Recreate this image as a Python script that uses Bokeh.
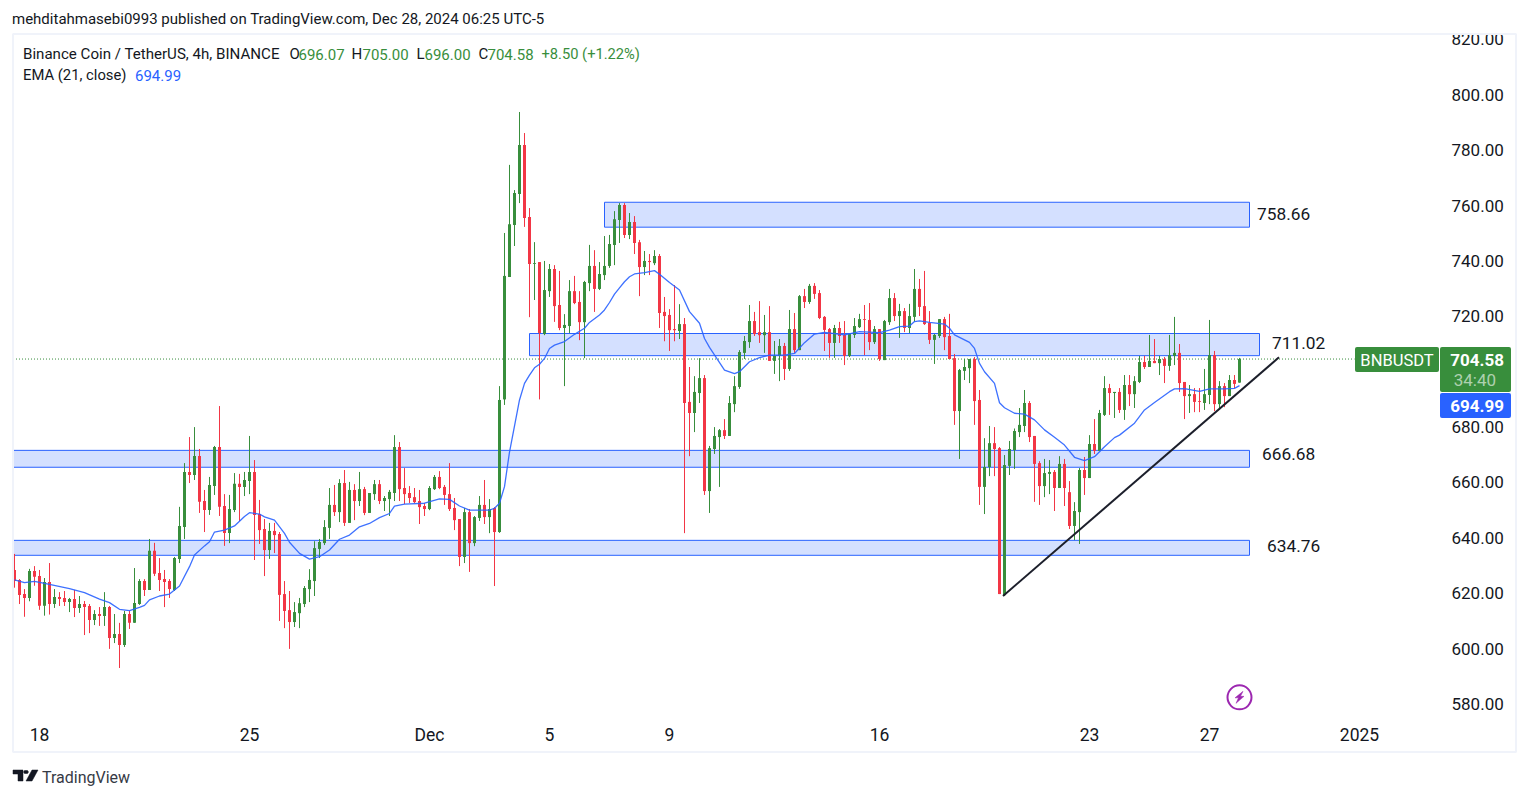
from bokeh.plotting import figure
from bokeh.embed import file_html
from bokeh.resources import INLINE
from bokeh.models import (Label, BoxAnnotation, PolyAnnotation, FixedTicker,
                          PrintfTickFormatter, ColumnDataSource, Range1d)
from bokeh.core.properties import value

# ---------- candle data (4h bars) ----------
dir_a = "RRRGRRGRGRRGRGRRGRGRGRGRGGRGRRRRGGGRGRRGGRRGGRGGRR"
dir_b = "RGRRRRGGGGGGGGRGRGRGRGGRGGGRRRRRRGGRRRRRGRGGRGRGGG"
dir_c = "GGRRGRGGRRGGRRGGRGGGGGRGRRGRGRRRRGRRGGRGGGRGGGGGRR"
dir_d = "GRGGRGRGRGRRRRGRRGGGRRGRGGRGRGGRRRGGRRRGGGRRGGRRGG"
dir_e = "GGGRRRGGRGRRGGRGRGGRGRGRGGRGRGRGGRRGRRGGRGRGRG"
directions = dir_a + dir_b + dir_c + dir_d + dir_e

highs = [634.2,625.1,621.5,628.8,629.8,628.4,625.5,630.9,621.5,620.4,620.8,618.3,621.2,619,617.2,616.1,613.9,615,620.4,615.4,612.5,609.3,613.6,613.6,629.1,625.1,625.1,639.6,638.2,632.7,628.4,625.1,633.1,651.2,667,676.4,680,672.1,657.3,662,673.2,687.6,655.8,655.5,663.4,663.1,663.8,676.8,668.1,653.7,
646.8,645.4,645.4,642.1,624.4,620.8,616.8,618.3,622.6,628.7,638.8,639.6,646.4,658,659.1,661.2,664.5,660.2,659.4,663.8,658.4,656.2,660.9,660.9,655.1,657.3,677.1,674.6,665.2,658.7,658,657.3,652.6,658.7,662.7,664.1,659.1,667,654.4,646.8,650.8,650.4,647.9,655.1,660.9,654,651.1,694.8,750.1,774.7,
765.6,793.8,786.2,759.1,746.8,739.6,740,738.9,738.5,736.4,720.8,733.1,734.6,729.1,732.8,745.8,743.9,739.6,749,749.4,758,760.9,760.9,757.3,756.2,747.6,743.6,742.5,743.9,742.5,727,722.6,731.3,724.4,719.4,701.7,698.4,704.9,698.8,673.2,680,679.3,682.9,691.2,698.4,707.8,712.9,724.1,721.6,725.5,
720.5,723.7,711.1,711.8,710.4,722.3,721.2,727.7,729.9,731.7,732,729.5,720.1,715.8,716.9,718,718.3,713.6,719.4,720.9,724.1,724.8,716.5,715.4,718.7,729.9,728.4,724.5,723,724.5,737.1,733.5,736.4,721.9,713.6,719,719.8,720.9,706.4,701,704.6,704.6,705.3,693.4,676,680.4,680,672.8,669.9,675,
679.5,686.9,693.4,689.4,676.8,667.7,668.5,668.1,664.5,669.5,668.5,660.5,652.9,665.2,669.2,677.1,682.9,686.2,698.4,695.6,692.7,694.1,698.8,698.8,698.4,705.7,705.7,713.3,711.8,705.7,705.3,713.3,719.8,710,696.3,695.2,694.1,694.1,701,718.7,707.5,696.6,695.9,698.8,698.8,705]

body_tops = [628.4,624.8,619.7,628,628,626.2,624.1,624.1,618.6,618.6,618.3,617.9,617.9,616.1,616.1,615.4,612.5,612.5,615,615,605.3,605.3,612.5,612.5,616.5,624.4,624.4,635.3,635.3,627.3,625.1,624.4,632.7,644.3,663.8,663.8,669.6,669.6,653.3,659.1,672.8,672.8,651.5,650.4,659.5,659.5,660.9,663.8,663.8,648.6,
643.2,642.5,642.5,641.4,619.7,613.9,613.2,616.4,621.9,624.8,636.3,638.5,643.9,651.9,651.9,659.8,659.8,657.3,657.3,657.6,657.6,656.2,659.4,659.4,654.4,656.6,672.8,672.8,658,656.2,654.7,653.3,651.5,658,662,662,658.4,655.8,650.8,646.8,649.3,649.3,647.5,651.9,651.9,650.4,650.8,689.8,734.6,753.3,
764.5,781.9,781.9,755.9,739.2,739.6,729.5,737.1,737.1,724.1,716.9,729.1,729.1,725.2,732.4,738.2,738.2,735.3,738.2,746.1,755.1,760.2,760.2,754.1,754.1,746.8,740,740,741.8,741.8,721.6,720.5,715.4,717.2,717.2,689.1,692.7,697.7,697.7,672.4,676.8,678.9,678.9,688.7,694.8,707.1,711.1,718.3,718.3,714.3,
714.3,714.3,705.7,709.3,709.3,715.4,715.4,727.3,727.3,731,731,728.4,719.8,715.4,715.8,715.8,713.3,713.6,716.5,719,719,718.7,715.4,715.4,718.3,726.6,726.6,721.9,721.9,720.1,729.9,729.9,723.7,717.6,713.3,719,719,712.9,704.9,700.6,701.7,704.6,704.6,689.8,665.6,674.2,674.2,672.4,666.3,672.1,
678.6,680.8,688.7,688.7,676.8,667,663.4,663.8,663.8,666.7,666.7,656.5,649.7,664.5,664.5,673.9,673.9,685.1,694.1,694.1,692.7,692.7,695.2,695.2,696.6,703.5,703.5,703.9,703.9,704.6,704.6,706,706.8,706.8,696.3,691.9,691.9,689.4,691.9,706,706,694.8,694.8,697,697,704.58]

body_bottoms = [624.4,619.4,618.3,618.3,626,615.5,615.5,616.1,616.1,617.9,616.8,616.8,614.7,614.7,615,610.3,610.3,611.8,611.8,603.8,603.8,601.3,601.3,609.3,609.3,616.1,621.2,621.2,627,624.8,624.1,621.5,621.2,632.4,643.9,662.7,662.7,653,650.1,650.1,658.7,651.2,641.8,641.8,650.1,658.4,658.4,660.5,648.3,642.8,
635.6,635.6,641,619.4,613.6,609.6,609.6,612.8,616.1,621.5,624.4,636,638.1,643.6,649.3,649.3,645.4,645.4,653.3,653.3,649,649,655.8,653.3,653.3,654,656.2,657.6,655.8,654.4,652.9,651.1,650.4,650.4,657.6,658,655.5,650.4,646.4,633.1,633.1,638.1,638.1,647.2,647.5,647.5,642.1,642.1,690,734.2,
753,764.2,755.5,738.9,738.9,714,713.6,729.1,723.7,715.8,715.8,716.5,724.8,717.9,717.9,732,729.9,729.9,734.9,738.2,745.8,754.8,749.4,749.4,746.5,737.8,737.8,739.6,739.2,721.2,720.1,715,715,714.7,688.7,685.1,685.1,692.3,656.9,656.9,672.1,676.4,676.8,676.8,688.3,694.5,706.8,710.7,713.6,713.2,
713.2,703.9,703.9,705.7,701,701,707.8,707.8,725.2,725.2,728.1,719.4,715.1,710.4,710.4,712.9,705.7,705.7,713.3,716.1,718.7,710.7,710.7,704.6,704.2,717.9,720.1,720.1,715.8,715.8,719.8,723.4,717.2,711.5,711.5,712.9,712.5,704.6,685.8,685.8,700.3,701.3,689.4,658.4,658.4,665.6,672.1,619.7,619.3,666,
671.7,678.2,680.4,676.4,666.7,658.7,658.7,663.1,658,658,658,644.3,644.3,649.3,661.6,661.6,671.4,671.4,684.4,692.3,692.3,686.2,686.2,691.9,691.9,696.3,701.7,701.7,703.1,703.1,702.1,702.1,705.7,695.9,691.2,691.2,689.1,689.1,688.7,691.6,688.3,688.3,691.2,691.2,695.6,696.07]

lows = [622,616.1,611.5,617.1,622.7,614,611.9,612.3,614.7,615.4,615.4,613.2,611.4,612.9,604.9,605.6,608.5,608.2,608.2,599.9,602,593,600.6,607.1,609.3,615.8,619,621.2,626.2,620.8,615,618.3,620.8,630.9,639.6,659.8,660.9,649,642.1,648.3,655.5,647.9,637.1,638.1,649.3,646.1,655.1,655.8,632,637.8,
626.2,632.4,634.5,610,607.4,599.9,607.8,607.4,615,616.8,619,632.7,637.4,639.6,647.9,645.7,644.3,645.4,646.4,651.5,648.2,649,653.7,652.2,649.7,647.9,653.3,653.3,652.2,652.6,652.6,645,647.9,650,657.3,657.6,651.9,649.7,642.8,629.8,630.9,627.7,637,646.1,645,641.7,622.6,641.8,688,734.2,
745.4,760.9,752.3,719.7,725.9,690,713.2,727,718,715,694.8,714,724.4,711.4,704.9,729.1,721.6,729.5,733.1,737.5,738.5,746.5,748.3,747.9,742.5,727.3,734.9,734.9,738.5,715.8,711,707.5,711,711.8,641.7,669.5,678.2,688.7,655.5,649,670.3,658.4,675.7,676.8,685.4,693.8,704.6,708.6,712.9,710.4,
706.8,703.9,699.2,696.6,697,700.3,706.8,707.8,723,724.5,726.3,719,707.5,705,705,710.4,702.4,705.3,712.2,715.8,706,707.8,710,703.9,704.2,716.9,718.3,712.2,714.3,714,718,720.1,716.9,710,702.8,712.2,707.8,704.6,680.8,668.5,697,695.9,680.8,651.9,648.6,662.3,662.3,619.7,619,662.7,
664.9,676.4,678.2,674.6,653,651.9,654.7,655.8,649.7,658,651.5,643.2,639.2,637.8,655.5,661.6,670.3,671.4,684,684.4,683.3,685.1,682.6,687.6,686.9,695.9,701,701.7,703.1,698.8,695.9,700.3,702.4,692.7,682.9,685.1,685.4,685.4,686.2,688.3,685.8,686.2,687.2,691.2,694.1,696]

# ---------- EMA(21) ----------
ema_bar = [0,2,4,7,11,14,17,19,21,23,25,26,27,29,31,33,35,36,38,39,40,42,44,46,47,49,50,52,54,55,57,59,61,63,65,67,69,71,73,75,76,78,82,85,87,89,91,95,96,97,98,99,
           101,102,103,104,105,106,107,108,110,112,114,115,117,118,119,120,121,122,123,124,126,128,129,131,133,135,137,138,139,142,144,145,147,149,151,154,156,158,160,162,166,169,173,175,177,179,180,181,183,186,187,188,191,192,193,194,196,197,198,200,202,204,206,208,210,212,214,216,218,220,221,224,226,228,231,232,234,237,239,242,244,245]
ema_val = [624.8,623.8,624.3,623.2,621.7,620.2,617.9,616.6,614.2,613.7,614.9,615.6,617.6,619,619.7,622.6,629.6,633.8,637.1,638.6,642.1,642.8,644.3,647.7,649.1,648.6,647.6,646.4,641.6,638.4,634.4,632.3,633.2,635.6,639.5,641,644,645.2,647.3,648.8,651.5,652.2,652.5,654.1,653.9,651.5,650,650,650.7,652.5,658.5,671,
           689.8,695.8,698.8,701.4,702.7,704.8,708.4,709.6,710.9,713.5,715.7,717.8,720.5,722.3,725,728,730.3,732.5,734.3,735.3,735.8,736.5,735.2,732.2,729.5,721.7,717.5,712,708.8,700.6,699.3,700,703.6,705.1,706,706,706.6,710.5,713.6,714.2,713.3,714.5,714.1,715,716.3,716.5,718.1,718.4,717.8,717.2,715.7,713.3,710.6,708.4,703,700,695.8,688.8,687,685,684.7,682.6,679,676.3,673.5,669.1,667.9,669.3,672.9,676.2,677.1,681.4,686.2,688.9,692.8,693.8,693.9,692.9,693.8,693.8,694,694.99]

# ---------- support / resistance zones and levels ----------
zone_left = [118, 103, -0.3, -0.3]
zone_right = [247, 249, 247, 247]
zone_top = [761.2, 713.8, 671.6, 639.1]
zone_bottom = [752.2, 705.8, 665.5, 633.7]
level_text = ["758.66", "711.02", "666.68", "634.76"]
level_bar = [248.5, 251.5, 249.5, 250.5]
level_price = [757.0, 710.4, 670.3, 637.0]

trend_bar = [197.7, 252.9]
trend_price = [619.0, 705.2]

last_price = 704.58
last_line_end_bar = 268
y_ticks = [580, 600, 620, 640, 660, 680, 700, 720, 740, 760, 780, 800, 820]
x_tick_bars = [5, 47, 83, 107, 131, 173, 215, 239, 269]
x_tick_text = ["18", "25", "Dec", "5", "9", "16", "23", "27", "2025"]

GREEN, RED, BLUE = "#388e3c", "#f23645", "#2962ff"
INK = "#131722"
FONT = "Roboto"

# Geometry: the plot frame fills the whole canvas
W, H = 1521, 790
PX_PRICE = 2.769
PX_BAR = 5.0
OFF = 0.5

def sx(px):
    return px - OFF

def sy(py):
    return H - py + OFF

p = figure(width=W, height=H, output_backend="svg", toolbar_location=None,
           x_range=Range1d((0 - 14.5 + OFF) / PX_BAR, (W - 14.5 + OFF) / PX_BAR),
           y_range=Range1d(580 + (704 - OFF - H) / PX_PRICE, 580 + (704 - OFF) / PX_PRICE),
           y_axis_location="right",
           min_border_left=0, min_border_right=0, min_border_top=0, min_border_bottom=0)
p.grid.visible = False
p.outline_line_color = None
p.background_fill_color = "white"
p.border_fill_color = "white"

# Axes: labels are pulled back inside the frame
ya = p.yaxis[0]
ya.ticker = FixedTicker(ticks=y_ticks)
ya.formatter = PrintfTickFormatter(format="%.2f")
ya.axis_line_color = None
ya.major_tick_line_color = None
ya.minor_tick_line_color = None
ya.major_tick_in = 0
ya.major_tick_out = 0
ya.minor_tick_in = 0
ya.minor_tick_out = 0
ya.major_label_text_font = FONT
ya.major_label_text_font_size = "17px"
ya.major_label_text_color = INK
ya.major_label_standoff = -70

xa = p.xaxis[0]
xa.ticker = FixedTicker(ticks=x_tick_bars)
xa.major_label_overrides = dict(zip(x_tick_bars, x_tick_text))
xa.axis_line_color = None
xa.major_tick_line_color = None
xa.minor_tick_line_color = None
xa.major_tick_in = 0
xa.major_tick_out = 0
xa.minor_tick_in = 0
xa.minor_tick_out = 0
xa.major_label_text_font = FONT
xa.major_label_text_font_size = "17.5px"
xa.major_label_text_color = INK
xa.major_label_standoff = -66

# Zones
p.quad(left=zone_left, right=zone_right, top=zone_top, bottom=zone_bottom,
       fill_color="#d4e0ff", fill_alpha=1, line_color=BLUE, line_width=1)

# Last price line
p.line([(13 - 14.5) / PX_BAR, last_line_end_bar], [last_price, last_price], line_color=GREEN,
       line_dash="1 2", line_width=1)

# Candles
bars = list(range(len(highs)))
colors = [GREEN if d == "G" else RED for d in directions]
src = ColumnDataSource(dict(bar=bars, high=highs, low=lows, top=body_tops,
                            bottom=body_bottoms, color=colors))
p.segment(x0="bar", x1="bar", y0="low", y1="high", color="color", line_width=1, source=src)
p.vbar(x="bar", width=3 / PX_BAR, top="top", bottom="bottom", fill_color="color",
       line_color=None, source=src)

# EMA
p.line(ema_bar, ema_val, line_color=BLUE, line_width=1.3, line_alpha=0.9)

# Trend line
p.line(trend_bar, trend_price, line_color="#1c1f2b", line_width=2)

# Level labels
p.text(level_bar, level_price, text=level_text, text_font=value(FONT), text_font_size="17.3px",
       text_color=INK, text_align="left", text_baseline="middle")

# Lightning icon
icon_bar, icon_price = 245.0, 582.4
p.scatter([icon_bar], [icon_price], marker="circle", size=24, fill_color=None,
          line_color="#9c27b0", line_width=2)
bolt_dx = [3.5, -4.5, -1, -3.5, 4.5, 1]
bolt_dy = [-6, 0.5, 0.5, 6, -1, -1]
p.patch([icon_bar + d / PX_BAR for d in bolt_dx],
        [icon_price - d / PX_PRICE for d in bolt_dy],
        fill_color="#9c27b0", line_color="#9c27b0", line_width=0.5)

def box(l, r, t, b, fill=None, line=None, lw=0, radius=0):
    p.add_layout(BoxAnnotation(left=sx(l), right=sx(r), top=sy(t), bottom=sy(b),
                               left_units="screen", right_units="screen",
                               top_units="screen", bottom_units="screen",
                               fill_color=fill, fill_alpha=1 if fill else 0,
                               line_color=line, line_width=lw, line_alpha=1 if line else 0,
                               border_radius=radius, level="overlay"))

def text(x, y, s, color=INK, size="15px", align="left", weight="normal", alpha=1.0):
    p.add_layout(Label(x=sx(x), y=sy(y), x_units="screen", y_units="screen", text=s,
                       text_color=color, text_font_size=size, text_font=FONT,
                       text_align=align, text_baseline="middle",
                       text_font_style=weight, text_alpha=alpha, level="overlay"))

# Chart pane border
box(13, 1516, 34, 752, line="#f0f3fa", lw=2)

# Price tags
box(1355, 1439, 347, 372, fill=GREEN, radius=2)
box(1440, 1511, 347, 392, fill=GREEN, radius=2)
box(1440, 1511, 393, 418, fill=BLUE, radius=2)
text(1397, 360, "BNBUSDT", color="white", size="16.5px", align="center")
text(1504, 360, "704.58", color="white", size="17px", align="right", weight="bold")
text(1496, 380, "34:40", color="white", size="17px", align="right", alpha=0.6)
text(1504, 406, "694.99", color="white", size="17px", align="right", weight="bold")

# Header and legend
text(12, 19, "mehditahmasebi0993 published on TradingView.com, Dec 28, 2024 06:25 UTC-5", size="15px")
text(23, 54, "Binance Coin / TetherUS, 4h, BINANCE", size="15.1px")
text(289.5, 54, "O", size="15px")
text(298.5, 54, "696.07", color=GREEN, size="15px")
text(351.5, 54, "H", size="15px")
text(362.5, 54, "705.00", color=GREEN, size="15px")
text(416.5, 54, "L", size="15px")
text(424.5, 54, "696.00", color=GREEN, size="15px")
text(478.5, 54, "C", size="15px")
text(487.5, 54, "704.58", color=GREEN, size="15px")
text(541.5, 54, "+8.50 (+1.22%)", color=GREEN, size="14.7px")
text(23, 75, "EMA (21, close)", size="14.8px")
text(135, 75, "694.99", color=BLUE, size="15px")

# Footer logo
def poly(xs, ys):
    p.add_layout(PolyAnnotation(xs=[sx(x) for x in xs], ys=[sy(y) for y in ys],
                                xs_units="screen", ys_units="screen",
                                fill_color=INK, fill_alpha=1, line_color=INK, line_alpha=1,
                                line_width=0.5, level="overlay"))

poly([13, 23, 23, 18, 18, 13], [770, 770, 781, 781, 774, 774])
poly([24.5, 27.5, 28.5, 27.5, 24.5, 23.5], [770.5, 770.5, 772, 773.5, 773.5, 772])
poly([32, 38, 32, 26], [770, 770, 781, 781])
text(42, 777, "TradingView", color="#363a45", size="16px")

open("out.html", "w").write(file_html(p, INLINE))
